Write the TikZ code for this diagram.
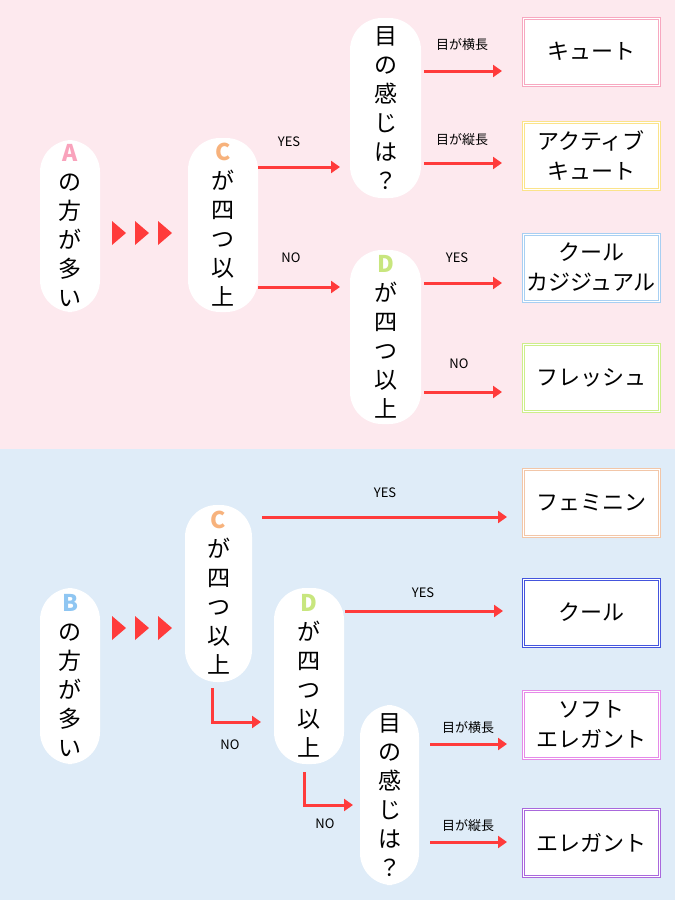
\documentclass[tikz,border=0pt]{standalone}
\usepackage{fontspec}
\setmainfont{Noto Sans CJK JP}
\usetikzlibrary{arrows.meta}
\definecolor{pinkbg}{HTML}{FDE9EE}
\definecolor{bluebg}{HTML}{DFECF8}
\definecolor{arr}{HTML}{FF3B3B}
\definecolor{cA}{HTML}{F9A3BC}
\definecolor{cB}{HTML}{8FC6F2}
\definecolor{cC}{HTML}{F7B27C}
\definecolor{cD}{HTML}{C8E67E}
\definecolor{b1}{HTML}{F7A8C0}
\definecolor{b2}{HTML}{FBE38A}
\definecolor{b3}{HTML}{A8CFF2}
\definecolor{b4}{HTML}{CDEE8A}
\definecolor{b5}{HTML}{F2C6A8}
\definecolor{b6}{HTML}{4455DD}
\definecolor{b7}{HTML}{E58AE8}
\definecolor{b8}{HTML}{A968DC}
\begin{document}
\begin{tikzpicture}[x=1pt,y=-1pt,
  pill/.style={fill=white,draw=none,rounded corners=32pt},
  ptxt/.style={align=center,font=\fontsize{23}{29}\selectfont,inner sep=0},
  res/.style={fill=white,draw=#1,line width=1pt,double=white,double distance=1pt,align=center,font=\fontsize{22}{30}\selectfont,inner sep=0,minimum width=136pt,minimum height=67pt},
  arw/.style={arr,line width=3pt,-{Triangle[length=9pt,width=12pt]}},
  lab/.style={font=\fontsize{13}{15}\selectfont,inner sep=0},
  tri/.style={fill=arr,draw=none}]
\useasboundingbox (0,0) rectangle (675,900);
\fill[pinkbg] (0,0) rectangle (675,449);
\fill[bluebg] (0,449) rectangle (675,900);
% top pills
\fill[pill] (40,140) rectangle (100,312);
\node[ptxt] (pA) at (70,226) {\textcolor{cA}{\textbf{A}}\\の\\方\\が\\多\\い};
\fill[pill] (188,138) rectangle (258,312);
\node[ptxt] (pC1) at (223,225) {\textcolor{cC}{\textbf{C}}\\が\\四\\つ\\以\\上};
\fill[pill] (350,18) rectangle (421,198);
\node[ptxt] (pE1) at (385.5,108) {目\\の\\感\\じ\\は\\？};
\fill[pill] (350,250) rectangle (421,424);
\node[ptxt] (pD1) at (385.5,337) {\textcolor{cD}{\textbf{D}}\\が\\四\\つ\\以\\上};
\foreach \x in {112,135,158} \fill[tri] (\x,221)--(\x+14,233)--(\x,245)--cycle;
% top results
\node[res=b1] (r1) at (591,51.5) {キュート};
\node[res=b2] (r2) at (591,155.5) {アクティブ\\キュート};
\node[res=b3] (r3) at (591,267.5) {クール\\カジジュアル};
\node[res=b4] (r4) at (591,377.5) {フレッシュ};
% top arrows
\draw[arw] (258,167) -- (340,167); \node[lab] (l1) at (289,142) {YES};
\draw[arw] (258,287) -- (340,287); \node[lab] (l2) at (291,258) {NO};
\draw[arw] (424,71) -- (502,71); \node[lab] (l3) at (462,45) {目が横長};
\draw[arw] (424,163) -- (502,163); \node[lab] (l4) at (462,140) {目が縦長};
\draw[arw] (424,283) -- (502,283); \node[lab] (l5) at (457,258) {YES};
\draw[arw] (424,392) -- (502,392); \node[lab] (l6) at (459,364) {NO};
% bottom pills
\fill[pill] (40,588) rectangle (100,764);
\node[ptxt] (pB) at (70,676) {\textcolor{cB}{\textbf{B}}\\の\\方\\が\\多\\い};
\fill[pill] (185,505) rectangle (252,682);
\node[ptxt] (pC2) at (218.5,593) {\textcolor{cC}{\textbf{C}}\\が\\四\\つ\\以\\上};
\fill[pill] (274,588) rectangle (344,764);
\node[ptxt] (pD2) at (309,676) {\textcolor{cD}{\textbf{D}}\\が\\四\\つ\\以\\上};
\fill[pill] (360,705) rectangle (419,885);
\node[ptxt] (pE2) at (389.5,795) {目\\の\\感\\じ\\は\\？};
\foreach \x in {112,135,158} \fill[tri] (\x,616)--(\x+14,628)--(\x,640)--cycle;
% bottom results
\node[res=b5] (r5) at (591,502.5) {フェミニン};
\node[res=b6] (r6) at (591,612.5) {クール};
\node[res=b7] (r7) at (591,724.5) {ソフト\\エレガント};
\node[res=b8] (r8) at (591,842.5) {エレガント};
% bottom arrows
\draw[arw] (262,517) -- (507,517); \node[lab] (l7) at (385,493) {YES};
\draw[arw] (345,611) -- (503,611); \node[lab] (l8) at (423,593) {YES};
\draw[arw] (212,688) -- (212,722) -- (261,722); \node[lab] (l9) at (230,745) {NO};
\draw[arw] (304,772) -- (304,805) -- (353,805); \node[lab] (l10) at (325,824) {NO};
\draw[arw] (430,744) -- (507,744); \node[lab] (l11) at (468,728) {目が横長};
\draw[arw] (430,842) -- (507,842); \node[lab] (l12) at (468,826) {目が縦長};
\end{tikzpicture}
\end{document}
